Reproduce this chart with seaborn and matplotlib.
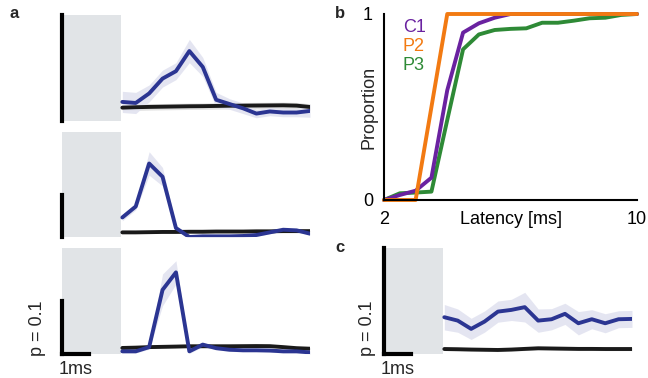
import numpy as np
import pandas as pd
import matplotlib
matplotlib.use("Agg")
import matplotlib.pyplot as plt
import seaborn as sns

sns.set_theme(style="white")
plt.rcParams['font.family'] = ['Liberation Sans', 'DejaVu Sans']

# ---------------- data ----------------
# time bins (ms) for the PSTH-like panels
t_bins = [2.25, 2.75, 3.25, 3.75, 4.25, 4.75, 5.25, 5.75, 6.25, 6.75, 7.25, 7.75, 8.25, 8.75, 9.25]
blank_end = 2.2   # grey artifact window (ms)

# panel a, top
a1_blue = [0.018, 0.017, 0.026, 0.040, 0.047, 0.066, 0.051, 0.020, 0.016, 0.012, 0.007, 0.009, 0.008, 0.008, 0.0095]
a1_blue_err = [0.010, 0.010, 0.008, 0.008, 0.008, 0.011, 0.009, 0.007, 0.005, 0.005, 0.004, 0.004, 0.004, 0.004, 0.006]
a1_black = [0.0126, 0.013, 0.0133, 0.0135, 0.0137, 0.0139, 0.014, 0.0142, 0.0144, 0.0145, 0.0146, 0.0147, 0.0148, 0.0145, 0.0132]
a1_black_err = [0.003] * 15

# panel a, middle
a2_blue = [0.0465, 0.0726, 0.175, 0.1435, 0.0213, 0.0, 0.0016, 0.0016, 0.0016, 0.0024, 0.0047, 0.011, 0.0173, 0.0158, 0.0079]
a2_blue_err = [0.008, 0.008, 0.028, 0.022, 0.006, 0.004, 0.003, 0.003, 0.003, 0.003, 0.003, 0.003, 0.003, 0.003, 0.003]
a2_black = [0.011, 0.011, 0.0115, 0.012, 0.012, 0.0125, 0.0125, 0.013, 0.013, 0.013, 0.0135, 0.0135, 0.014, 0.014, 0.014]
a2_black_err = [0.002] * 15

# panel a, bottom
a3_blue = [0.005, 0.005, 0.013, 0.121, 0.154, 0.005, 0.0177, 0.011, 0.008, 0.007, 0.007, 0.0065, 0.005, 0.005, 0.003]
a3_blue_err = [0.003, 0.003, 0.004, 0.030, 0.022, 0.004, 0.004, 0.003, 0.003, 0.003, 0.003, 0.003, 0.003, 0.003, 0.003]
a3_black = [0.0114, 0.012, 0.013, 0.0135, 0.014, 0.0146, 0.0146, 0.0146, 0.0146, 0.0148, 0.015, 0.0148, 0.013, 0.011, 0.010]
a3_black_err = [0.002] * 15

# panel c
c_blue = [0.0347, 0.0315, 0.0237, 0.0306, 0.040, 0.0416, 0.0442, 0.0315, 0.0328, 0.0379, 0.029, 0.0328, 0.029, 0.0328, 0.0331]
c_blue_err = [0.012, 0.011, 0.010, 0.010, 0.010, 0.010, 0.014, 0.011, 0.010, 0.010, 0.011, 0.009, 0.009, 0.008, 0.008]
c_black = [0.0047, 0.0045, 0.0042, 0.004, 0.0038, 0.0042, 0.0048, 0.0054, 0.0052, 0.005, 0.0048, 0.0048, 0.0047, 0.0047, 0.0047]
c_black_err = [0.0015] * 15

# panel b: cumulative latency distributions
lat = [2.0, 2.5, 3.0, 3.5, 4.0, 4.5, 5.0, 5.5, 6.0, 6.5, 7.0, 7.5, 8.0, 8.5, 9.0, 9.5, 10.0]
C1 = [0.0, 0.027, 0.05, 0.12, 0.59, 0.90, 0.95, 0.98, 1.0, 1.0, 1.0, 1.0, 1.0, 1.0, 1.0, 1.0, 1.0]
P2 = [0.0, 0.0, 0.0, 0.5, 1.0, 1.0, 1.0, 1.0, 1.0, 1.0, 1.0, 1.0, 1.0, 1.0, 1.0, 1.0, 1.0]
P3 = [0.0, 0.036, 0.04, 0.045, 0.43, 0.81, 0.89, 0.914, 0.92, 0.923, 0.953, 0.953, 0.964, 0.977, 0.98, 0.995, 1.0]
series_names = ["C1", "P2", "P3"]

# ---------------- style ----------------
BLUE = "#2b3592"
BAND = "#e2e3f0"
BLACK = "#1a1a1a"
GREY_BOX = "#e1e4e7"
COLORS = {"C1": "#6a22a0", "P2": "#f27a12", "P3": "#2e8a36"}
W, H = 648, 378

fig = plt.figure(figsize=(W / 100, H / 100), dpi=100)


def frac(x0, y0, x1, y1):
    return [x0 / W, 1 - y1 / H, (x1 - x0) / W, (y1 - y0) / H]


def psth(ax, blue, blue_err, black, black_err, ymax, scalebar_x=False):
    df = pd.DataFrame({"t": t_bins, "blue": blue, "black": black})
    be = np.array(blue_err)
    ke = np.array(black_err)
    ax.axvspan(0, blank_end, color=GREY_BOX, lw=0, zorder=0)
    ax.fill_between(df["t"], df["black"] - ke, df["black"] + ke, color="#d9d9d9", lw=0, alpha=0.8, zorder=1)
    ax.fill_between(df["t"], df["blue"] - be, df["blue"] + be, color=BAND, lw=0, alpha=0.9, zorder=1)
    sns.lineplot(data=df, x="t", y="black", ax=ax, color=BLACK, lw=2.8, zorder=3)
    sns.lineplot(data=df, x="t", y="blue", ax=ax, color=BLUE, lw=2.8, zorder=4)
    ax.set_xlim(0, 9.25)
    ax.set_ylim(0, ymax)
    for s in ["top", "right"]:
        ax.spines[s].set_visible(False)
    ax.spines["left"].set_bounds(0, 0.1)
    ax.spines["left"].set_linewidth(3)
    ax.spines["left"].set_color("black")
    ax.spines["left"].set_zorder(5)
    if scalebar_x:
        ax.spines["bottom"].set_bounds(0, 1)
        ax.spines["bottom"].set_linewidth(3)
        ax.spines["bottom"].set_color("black")
    else:
        ax.spines["bottom"].set_visible(False)
    ax.set_xticks([])
    ax.set_yticks([])
    ax.set_xlabel("")
    ax.set_ylabel("")
    ax.patch.set_alpha(0)


ax1 = fig.add_axes(frac(62, 15, 310, 121))
psth(ax1, a1_blue, a1_blue_err, a1_black, a1_black_err, 0.1)
ax2 = fig.add_axes(frac(62, 132, 310, 237))
psth(ax2, a2_blue, a2_blue_err, a2_black, a2_black_err, 0.25)
ax3 = fig.add_axes(frac(62, 248, 310, 354))
psth(ax3, a3_blue, a3_blue_err, a3_black, a3_black_err, 0.2, scalebar_x=True)
axc = fig.add_axes(frac(384, 248, 632, 354))
psth(axc, c_blue, c_blue_err, c_black, c_black_err, 0.1, scalebar_x=True)

for ax, dx in ((ax3, -24), (axc, -17)):
    ax.annotate("p = 0.1", xy=(0, 0), xycoords="data", xytext=(dx, 26), textcoords="offset pixels",
                rotation=90, ha="center", va="center", fontsize=13, annotation_clip=False)
    ax.annotate("1ms", xy=(0.5, 0), xycoords="data", xytext=(0, -15), textcoords="offset pixels",
                ha="center", va="center", fontsize=13, annotation_clip=False)

# panel b
axb = fig.add_axes(frac(384, 14, 637, 200))
dfb = pd.DataFrame({"lat": lat * 3,
                    "prop": C1 + P2 + P3,
                    "cell": sum([[n] * len(lat) for n in series_names], [])})
sns.lineplot(data=dfb, x="lat", y="prop", hue="cell", palette=COLORS, lw=2.8, ax=axb,
             legend=False, hue_order=["P3", "C1", "P2"])
for line in axb.lines:
    line.set_clip_on(False)
axb.set_xlim(2, 10)
axb.set_ylim(0, 1)
for s in ["top", "right"]:
    axb.spines[s].set_visible(False)
for s in ["left", "bottom"]:
    axb.spines[s].set_linewidth(1.5)
    axb.spines[s].set_color("black")
axb.set_xticks([2, 6, 10])
axb.set_xticklabels(["2", "Latency [ms]", "10"])
axb.set_yticks([0, 1])
axb.set_yticklabels(["0", "1"])
axb.tick_params(direction="in", length=4, width=1.5, labelsize=13, pad=8, colors="black")
axb.set_xlabel("")
axb.set_ylabel("Proportion", fontsize=13)
axb.yaxis.set_label_coords(-0.026, 0.5)
for i, n in enumerate(series_names):
    axb.text(2.6, 0.927 - i * 0.102, n, color=COLORS[n], fontsize=13, ha="left", va="center")

# panel letters
fig.text(10 / W, 1 - 14 / H, "a", fontsize=12, fontweight="bold", ha="left", va="center")
fig.text(335 / W, 1 - 14 / H, "b", fontsize=12, fontweight="bold", ha="left", va="center")
fig.text(335 / W, 1 - 247 / H, "c", fontsize=12, fontweight="bold", ha="left", va="center")

fig.savefig("out.png", dpi=100)
